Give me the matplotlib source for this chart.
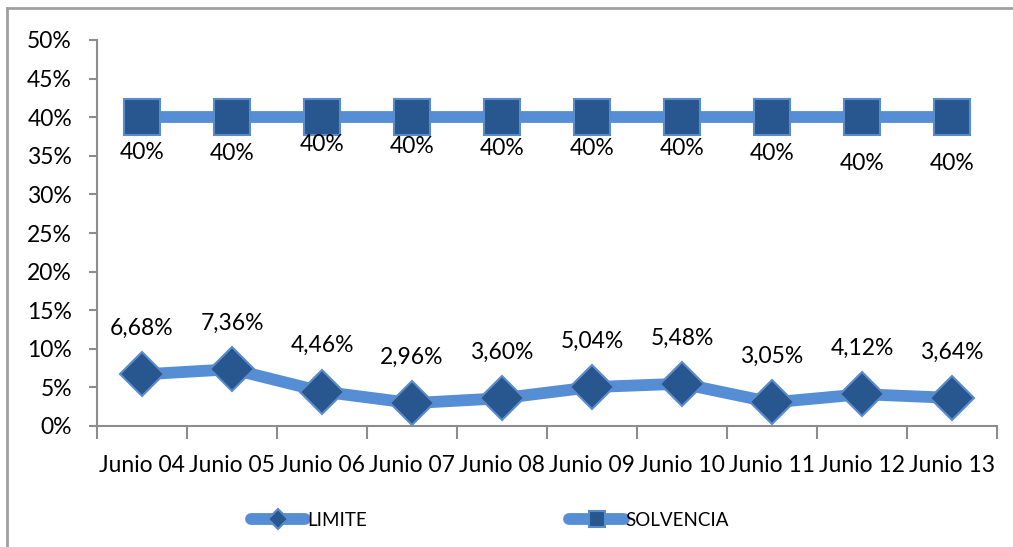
import matplotlib.pyplot as plt
from matplotlib.lines import Line2D

plt.rcParams['font.family'] = ['Lato', 'DejaVu Sans']

fechas = ["Junio 04", "Junio 05", "Junio 06", "Junio 07", "Junio 08",
          "Junio 09", "Junio 10", "Junio 11", "Junio 12", "Junio 13"]
limite = [6.68, 7.36, 4.46, 2.96, 3.60, 5.04, 5.48, 3.05, 4.12, 3.64]
solvencia = [40, 40, 40, 40, 40, 40, 40, 40, 40, 40]

# how far (px) each solvency label sits below its marker
baja_solv = [35, 36, 27, 29, 31, 31, 31, 36, 46, 46]

W, H = 1013, 547
fig = plt.figure(figsize=(W / 100, H / 100), dpi=100)
ax = fig.add_axes([97 / W, 1 - 426 / H, (997 - 97) / W, (426 - 40) / H])

x = range(len(fechas))
linea = '#558ed5'
cara = '#28568f'
borde = '#5a8ccc'

ax.plot(x, limite, color=linea, lw=8.5, solid_capstyle='round',
        marker='D', ms=22, mfc=cara, mec=borde, mew=1.5, zorder=3,
        label='LIMITE')
ax.plot(x, solvencia, color=linea, lw=8.5, solid_capstyle='round',
        marker='s', ms=26, mfc=cara, mec=borde, mew=1.5, zorder=3,
        label='SOLVENCIA')

for i, v in enumerate(limite):
    ax.annotate(f"{v:.2f}%".replace('.', ','), (i, v), xytext=(0, 33),
                textcoords='offset points', ha='center', va='center',
                fontsize=16.5, color='black')
for i, v in enumerate(solvencia):
    ax.annotate(f"{v}%", (i, v), xytext=(0, -baja_solv[i] * 0.72),
                textcoords='offset points', ha='center', va='center',
                fontsize=16.5, color='black')

ax.set_xlim(-0.5, len(fechas) - 0.5)
ax.set_ylim(0, 50)
ax.set_yticks(range(0, 51, 5))
ax.set_yticklabels([f"{t}%" for t in range(0, 51, 5)], fontsize=16.5)
ax.set_xticks([i - 0.5 for i in range(len(fechas) + 1)])
ax.set_xticklabels([])
ax.set_xticks(list(x), minor=True)
ax.set_xticklabels(fechas, minor=True, fontsize=16.5)
ax.tick_params(axis='x', which='minor', length=0, pad=21)
ax.tick_params(axis='x', which='major', length=9, width=1.5, color='#8c8c8c', direction='out')
ax.tick_params(axis='y', length=6, width=1.5, color='#8c8c8c', direction='out', pad=12)

for s in ['top', 'right']:
    ax.spines[s].set_visible(False)
for s in ['left', 'bottom']:
    ax.spines[s].set_color('#8c8c8c')
    ax.spines[s].set_linewidth(1.5)

fig.legend(loc='center', bbox_to_anchor=(490 / W, 1 - 520 / H), ncol=2,
           frameon=False, fontsize=13.5, columnspacing=10.8, handlelength=2.9,
           handletextpad=0.1, markerscale=0.45)

# outer chart frame
fig.add_artist(Line2D([7 / W, 7 / W], [0, 1 - 8 / H], color='#a0a0a0', lw=2))
fig.add_artist(Line2D([7 / W, 1], [1 - 8 / H, 1 - 8 / H], color='#a0a0a0', lw=2))

fig.savefig('out.png', dpi=100)
